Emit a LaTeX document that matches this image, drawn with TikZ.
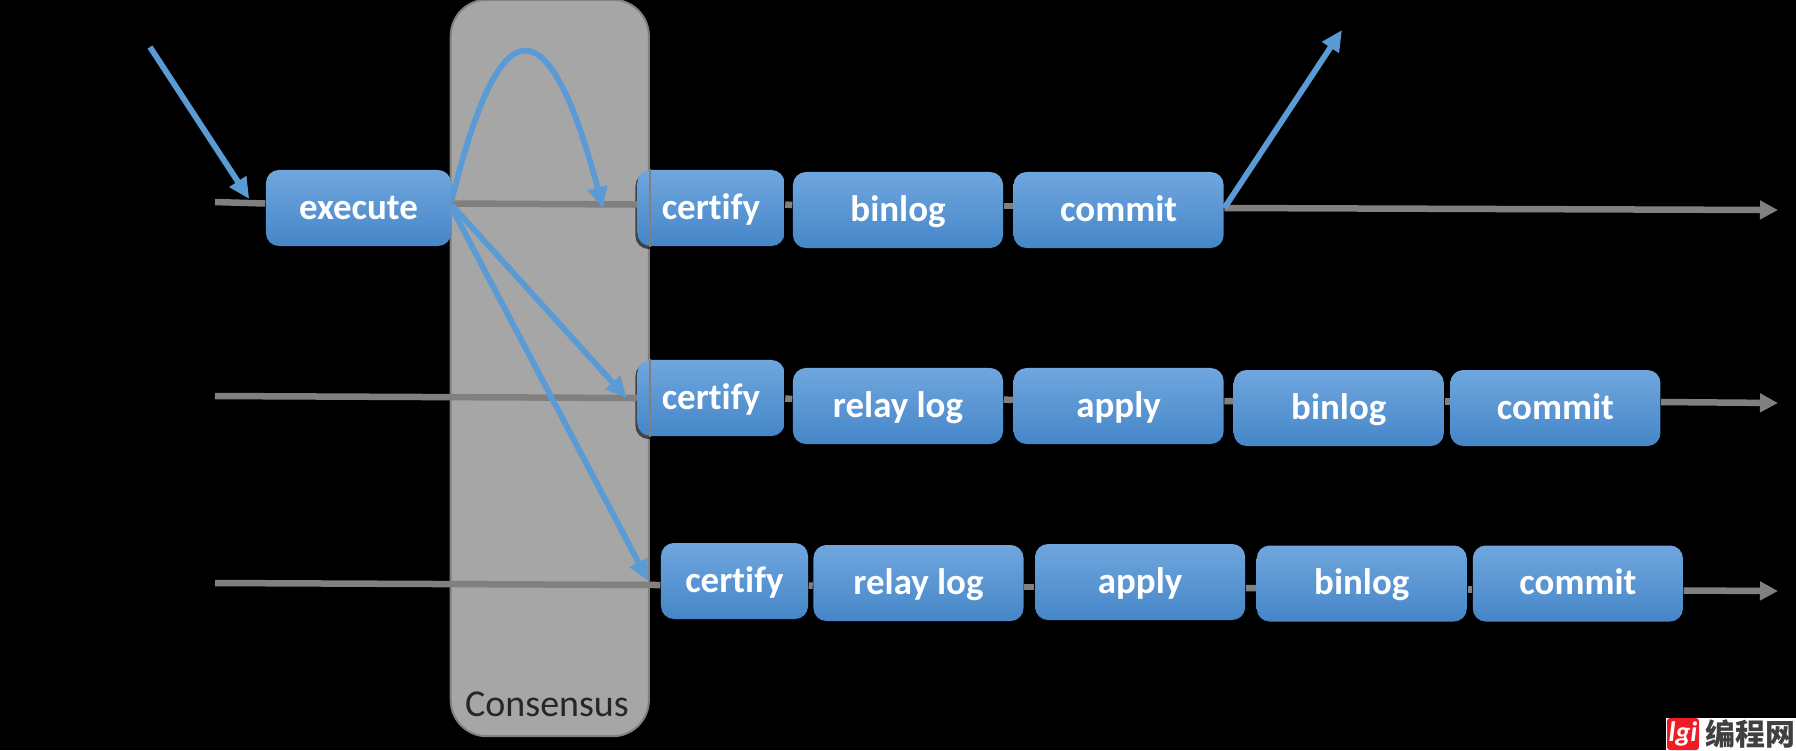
\documentclass[tikz,border=0pt]{standalone}
\usepackage{fontspec}
\setmainfont[Ligatures=NoCommon]{Carlito}
\newfontfamily\cjk{Noto Sans CJK SC}
\usepackage{tikz}
\usetikzlibrary{arrows.meta,positioning,shadows}
\definecolor{bluetop}{HTML}{70A6DE}
\definecolor{bluebot}{HTML}{4586C8}
\definecolor{arrowblue}{HTML}{5B9BD5}
\definecolor{railgray}{HTML}{808080}
\definecolor{panelgray}{HTML}{A6A6A6}
\definecolor{markred}{HTML}{EE1C25}

\begin{document}
\begin{tikzpicture}[x=0.01cm, y=-0.01cm,
    main/.style = {rounded corners=0.13cm, top color=bluetop, bottom color=bluebot, text=white, font=\fontsize{10.5}{12}\selectfont\bfseries, inner sep=0pt, minimum height=0.76cm, text height=0.22cm, text depth=0cm},
    wide/.style = {main, minimum width=2.1cm},
    small/.style = {main, minimum width=1.47cm},
    flow/.style = {draw=railgray, line width=0.065cm},
    send/.style = {draw=arrowblue, line width=0.058cm, -{Triangle[length=0.21cm,width=0.19cm]}},
    node distance=2.2cm]
    \useasboundingbox (0,0) rectangle (1796,750);
    \fill[black] (0,0) rectangle (1796,750);

    \node[draw=railgray, fill=panelgray, line width=0.02cm, rounded corners=0.36cm, minimum width=1.98cm, minimum height=7.36cm, inner sep=0pt] (pn) at (549.8,368) {};
    \node[text=black!85, font=\fontsize{10.8}{12}\selectfont] (lb) at (547,704) {Consensus};

    % first row
    \node[main, minimum width=1.85cm] (ex) at (358.5,208) {execute};
    \node[small, drop shadow={shadow xshift=-0.02cm, shadow yshift=-0.03cm, fill=black, opacity=.6}] (ce1) at (711,208) {certify};
    \node[wide] (bi1) at (898,210) {binlog};
    \node[wide] (co1) [right of=bi1, node distance=2.205cm] {commit};

    % second row
    \node[small, drop shadow={shadow xshift=-0.02cm, shadow yshift=-0.03cm, fill=black, opacity=.6}] (ce2) at (711,398) {certify};
    \node[wide] (re2) at (898,406) {relay log};
    \node[wide] (ap2) [right of=re2, node distance=2.205cm] {apply};
    \node[wide] (bi2) [right of=ap2, yshift=-0.02cm] {binlog};
    \node[wide] (co2) [right of=bi2, node distance=2.165cm] {commit};

    % third row
    \node[small] (ce3) at (734.5,581) {certify};
    \node[wide] (re3) at (918.5,583) {relay log};
    \node[wide] (ap3) [right of=re3, node distance=2.215cm, yshift=0.01cm] {apply};
    \node[wide] (bi3) [right of=ap3, node distance=2.215cm, yshift=-0.015cm] {binlog};
    \node[wide] (co3) [right of=bi3, node distance=2.16cm] {commit};

    % panel edge runs over the two boxes
    \draw[railgray, line width=0.02cm] (pn.east |- ce1.north) -- (pn.east |- ce1.south);
    \draw[railgray, line width=0.02cm] (pn.east |- ce2.north) -- (pn.east |- ce2.south);

    \coordinate (in1) at (215,202);
    \coordinate (in2) at (215,396);
    \coordinate (in3) at (215,583);
    \coordinate (out1) at (1778,210);
    \coordinate (out2) at (1778,403);
    \coordinate (out3) at (1778,591);
    \coordinate (client) at (150,47);
    \coordinate (reply) at (1342,30);

    \foreach \a/\s/\b/\t in {ex/4.5/ce1/3.5, ce1/3.5/bi1/5, bi1/4/co1/4, ce2/-0.5/re2/7, re2/6.5/ap2/6, ap2/5/bi2/7, bi2/6.5/co2/6.5, ce3/-4.5/re3/-2.7, re3/-4/ap3/-5, ap3/-6/bi3/-4.5, bi3/-6/co3/-6}
        \draw[flow] ([yshift=\s*0.01cm]\a.east) -- ([yshift=\t*0.01cm]\b.west);
    \draw[flow] (in1) -- ([yshift=0.045cm]ex.west);
    \draw[flow] (in2) -- (ce2.west);
    \draw[flow] (in3) -- ([yshift=-0.04cm]ce3.west);
    \draw[flow, -{Triangle[length=0.18cm,width=0.18cm]}] ([yshift=0.02cm]co1.east) -- (out1);
    \draw[flow, -{Triangle[length=0.18cm,width=0.18cm]}] ([yshift=0.06cm]co2.east) -- (out2);
    \draw[flow, -{Triangle[length=0.18cm,width=0.18cm]}] ([yshift=-0.07cm]co3.east) -- (out3);

    \draw[send] (client) -- ([xshift=-0.16cm, yshift=0.09cm]ex.west);
    \draw[send] ([yshift=0.08cm]ex.east) .. controls (497,16) and (545,-10) .. (603,208);
    \draw[send] ([yshift=0.03cm]ex.east) -- ([xshift=-0.1cm]ce2.west);
    \draw[send] (ex.east) -- ([xshift=-0.12cm]ce3.west);
    \draw[send] ([yshift=0.02cm]co1.east) -- (reply);

    % site mark
    \fill[white] (1666,718) rectangle (1796,750);
    \node[fill=markred, rounded corners=0.03cm, minimum size=0.32cm, inner sep=0pt, text=white, font=\fontsize{8}{8}\selectfont\bfseries\itshape] (mk) at (1683,734) {lgi};
    \node[right=0.05cm of mk, inner sep=0pt, text=black!75, font=\cjk\bfseries\fontsize{8.5}{9}\selectfont] (wm) {编程网};
\end{tikzpicture}
\end{document}
